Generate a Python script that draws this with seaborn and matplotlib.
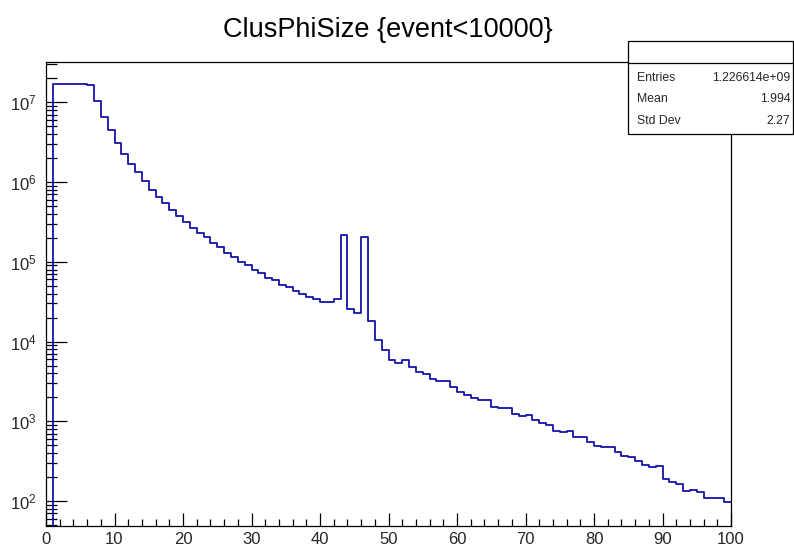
import numpy as np
import pandas as pd
import matplotlib
matplotlib.use("Agg")
import matplotlib.pyplot as plt
from matplotlib.ticker import MultipleLocator, LogLocator
from matplotlib.patches import Rectangle
from matplotlib.lines import Line2D
import seaborn as sns

# Histogram contents, one value per unit-wide bin from 0 to 100
counts_head = [0, 1.70e7, 1.70e7, 1.70e7, 1.70e7, 1.70e7, 1.65e7, 1.03e7, 6.56e6, 4.54e6,
               3.10e6, 2.25e6, 1.70e6, 1.32e6, 1.03e6, 8.04e5, 6.50e5, 5.47e5, 4.42e5, 3.71e5,
               3.12e5, 2.68e5, 2.27e5, 2.02e5, 1.72e5, 1.53e5, 1.29e5, 1.15e5, 1.00e5, 9.01e4]
counts_mid = [7.96e4, 7.24e4, 6.31e4, 5.91e4, 5.06e4, 4.77e4, 4.30e4, 3.94e4, 3.57e4, 3.37e4,
              3.13e4, 3.13e4, 3.37e4, 2.19e5, 2.56e4, 2.25e4, 2.02e5, 1.82e4, 1.03e4, 7.82e3,
              5.91e3, 5.37e3, 5.91e3, 4.79e3, 4.18e3, 3.87e3, 3.38e3, 3.16e3, 3.16e3, 2.69e3]
counts_tail = [2.36e3, 2.13e3, 1.97e3, 1.86e3, 1.86e3, 1.53e3, 1.45e3, 1.45e3, 1.24e3, 1.16e3,
               1.20e3, 1.04e3, 940, 900, 755, 732, 762, 634, 634, 548,
               495, 479, 479, 411, 369, 359, 313, 279, 263, 271,
               191, 171, 164, 134, 139, 130, 109, 109, 109, 98]
counts = np.array(counts_head + counts_mid + counts_tail, dtype=float)

bin_edges = list(range(0, 101))
bin_centers = np.arange(100) + 0.5
hist_df = pd.DataFrame({"ClusPhiSize": bin_centers, "count": counts})

title = "ClusPhiSize {event<10000}"
stat_names = ["Entries", "Mean", "Std Dev"]
stat_values = ["1.226614e+09", "1.994", "2.27"]

sns.set_theme(style="white")
plt.rcParams["font.family"] = ["Liberation Sans", "DejaVu Sans"]
plt.rcParams["mathtext.fontset"] = "custom"
plt.rcParams["mathtext.rm"] = "Liberation Sans"
plt.rcParams["mathtext.it"] = "Liberation Sans:italic"
plt.rcParams["mathtext.bf"] = "Liberation Sans:bold"

W, H = 794, 548
fig = plt.figure(figsize=(W / 100, H / 100), dpi=100)
fig.patch.set_facecolor("white")

left, right, top, bottom = 46, 731, 62, 526
ax = fig.add_axes([left / W, 1 - bottom / H, (right - left) / W, (bottom - top) / H])
ax.set_facecolor("white")

sns.histplot(data=hist_df, x="ClusPhiSize", weights="count", bins=bin_edges,
             element="step", fill=False, color="#1212aa", linewidth=1.3, ax=ax)

ax.set_yscale("log")
ax.set_xlim(0, 100)
ax.set_ylim(48.5, 3.21e7)
ax.set_xlabel("")
ax.set_ylabel("")

ax.xaxis.set_major_locator(MultipleLocator(10))
ax.xaxis.set_minor_locator(MultipleLocator(2))
ax.yaxis.set_major_locator(LogLocator(base=10))
ax.yaxis.set_minor_locator(LogLocator(base=10, subs=np.arange(2, 10)))

for s in ax.spines.values():
    s.set_visible(True)
    s.set_color("black")
    s.set_linewidth(0.9)

ax.tick_params(axis="x", which="major", direction="in", length=9.4, width=0.9,
               color="black", labelsize=12, pad=4, top=False, bottom=True)
ax.tick_params(axis="x", which="minor", direction="in", length=4.8, width=0.9,
               color="black", top=False, bottom=True)
ax.tick_params(axis="y", which="major", direction="in", length=15, width=0.9,
               color="black", labelsize=12, pad=7, right=False, left=True)
ax.tick_params(axis="y", which="minor", direction="in", length=8, width=0.9,
               color="black", right=False, left=True)

fig.text(388 / W, 1 - 30 / H, title, ha="center", va="center", fontsize=19.5, color="black")

# Statistics box
bx0, bx1, by0, by1, bsep = 628, 793, 41, 134, 63
fig.patches.append(Rectangle((bx0 / W, 1 - by1 / H), (bx1 - bx0) / W, (by1 - by0) / H,
                             transform=fig.transFigure, facecolor="white",
                             edgecolor="black", linewidth=0.9, zorder=5))
fig.lines.append(Line2D([bx0 / W, bx1 / W], [1 - bsep / H, 1 - bsep / H],
                        transform=fig.transFigure, color="black", linewidth=0.9, zorder=6))
row_y = [77.8, 99.2, 120.8]
for name, val, ry in zip(stat_names, stat_values, row_y):
    fig.text(637 / W, 1 - ry / H, name, ha="left", va="center", fontsize=8.8, zorder=7)
    fig.text(790.5 / W, 1 - ry / H, val, ha="right", va="center", fontsize=8.8, zorder=7)

fig.savefig("out.png", dpi=100, facecolor="white")
